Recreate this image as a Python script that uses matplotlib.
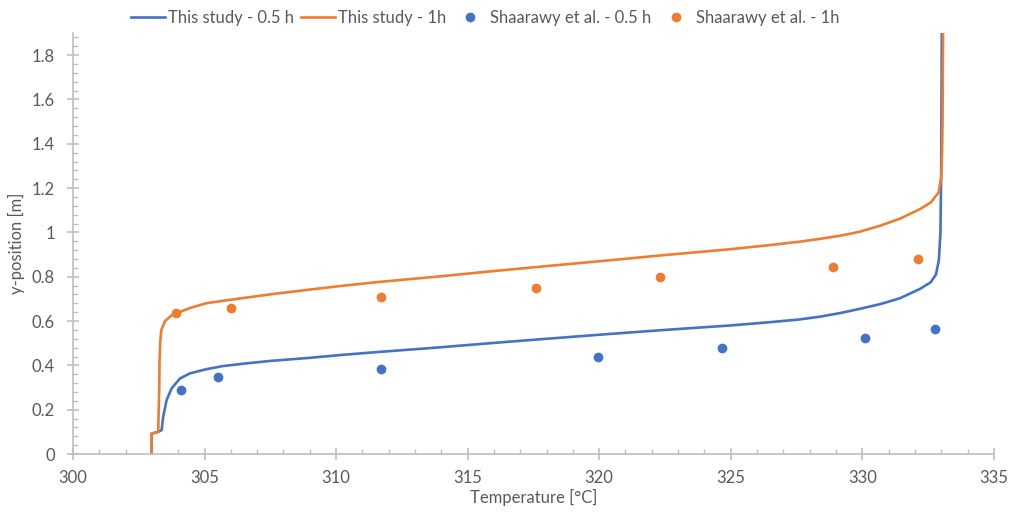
import matplotlib
matplotlib.use("Agg")
import matplotlib.pyplot as plt
from matplotlib.ticker import MultipleLocator

plt.rcParams['font.family'] = ['Lato', 'DejaVu Sans']

# model profiles
study_05_T = [302.99, 302.99, 303.24, 303.37, 303.43, 303.56, 303.75, 304.07, 304.45, 305.08,
              305.71, 306.5, 307.5, 309.0, 310.3, 311.67, 313.8, 315.85, 318.0, 320.2,
              322.5, 324.97, 326.5, 327.6, 328.4, 329.2, 329.9, 330.7, 331.43, 332.19,
              332.6, 332.8, 332.91, 332.97, 333.0, 333.02]
study_05_y = [0.0, 0.092, 0.10, 0.108, 0.168, 0.244, 0.296, 0.341, 0.364, 0.383,
              0.397, 0.408, 0.42, 0.434, 0.448, 0.461, 0.48, 0.50, 0.52, 0.54,
              0.56, 0.58, 0.595, 0.607, 0.62, 0.637, 0.655, 0.677, 0.703, 0.745,
              0.775, 0.81, 0.875, 1.0, 1.3, 1.9]

study_1_T = [302.99, 302.99, 303.24, 303.28, 303.29, 303.32, 303.36, 303.5, 303.76, 304.45,
             305.09, 306.35, 307.6, 309.0, 310.3, 311.67, 313.8, 315.85, 318.0, 320.2,
             322.5, 324.97, 326.5, 327.6, 328.4, 329.2, 329.9, 330.67, 331.43, 332.19,
             332.6, 332.9, 333.0, 333.03, 333.05, 333.07]
study_1_y = [0.0, 0.092, 0.099, 0.30, 0.42, 0.51, 0.56, 0.60, 0.627, 0.659,
             0.681, 0.702, 0.722, 0.742, 0.76, 0.777, 0.80, 0.824, 0.848, 0.872,
             0.898, 0.924, 0.943, 0.958, 0.971, 0.986, 1.003, 1.03, 1.062, 1.105,
             1.135, 1.18, 1.25, 1.35, 1.5, 1.9]

# Shaarawy et al. measurements
shaar_05_T = [304.1, 305.5, 311.7, 319.95, 324.67, 330.1, 332.76]
shaar_05_y = [0.289, 0.347, 0.383, 0.437, 0.478, 0.523, 0.564]
shaar_1_T = [303.9, 306.0, 311.7, 317.6, 322.3, 328.9, 332.1]
shaar_1_y = [0.636, 0.659, 0.708, 0.749, 0.798, 0.843, 0.880]

blue = '#4472C4'
orange = '#ED7D31'
grey = '#595959'
axis_grey = '#BFBFBF'

fig = plt.figure(figsize=(10.09, 5.13), dpi=100)
ax = fig.add_axes([0.0723, 0.115, 0.9127, 0.8207])

ax.plot(study_05_T, study_05_y, color=blue, lw=1.9, label='This study - 0.5 h')
ax.plot(study_1_T, study_1_y, color=orange, lw=1.9, label='This study - 1h')
ax.plot(shaar_05_T, shaar_05_y, 'o', color=blue, ms=6, label='Shaarawy et al. - 0.5 h')
ax.plot(shaar_1_T, shaar_1_y, 'o', color=orange, ms=6, label='Shaarawy et al. - 1h')

ax.set_xlim(300, 335)
ax.set_ylim(0, 1.9)
ax.xaxis.set_major_locator(MultipleLocator(5))
ax.xaxis.set_minor_locator(MultipleLocator(1))
ax.yaxis.set_minor_locator(MultipleLocator(0.04))
ax.set_yticks([0, 0.2, 0.4, 0.6, 0.8, 1.0, 1.2, 1.4, 1.6, 1.8])
ax.set_yticklabels(['0', '0.2', '0.4', '0.6', '0.8', '1', '1.2', '1.4', '1.6', '1.8'])

for s in ['top', 'right']:
    ax.spines[s].set_visible(False)
for s in ['left', 'bottom']:
    ax.spines[s].set_color(axis_grey)
    ax.spines[s].set_linewidth(1.2)

ax.tick_params(which='major', direction='inout', length=8, width=1.2, color=axis_grey,
               labelsize=12, labelcolor=grey)
ax.tick_params(axis='x', which='major', pad=7.5)
ax.tick_params(axis='y', which='major', pad=9)
ax.tick_params(which='minor', direction='in', length=3.5, width=1, color=axis_grey)

ax.set_xlabel('Temperature [°C]', fontsize=12, color=grey, labelpad=2)
ax.set_ylabel('y-position [m]', fontsize=12, color=grey, labelpad=5)

fig.legend(loc='upper center', bbox_to_anchor=(0.481, 1.01), ncol=4, frameon=False,
           fontsize=12, labelcolor=grey, handlelength=2.0, handletextpad=0.2,
           columnspacing=0.45)

fig.savefig('out.png', dpi=100)
